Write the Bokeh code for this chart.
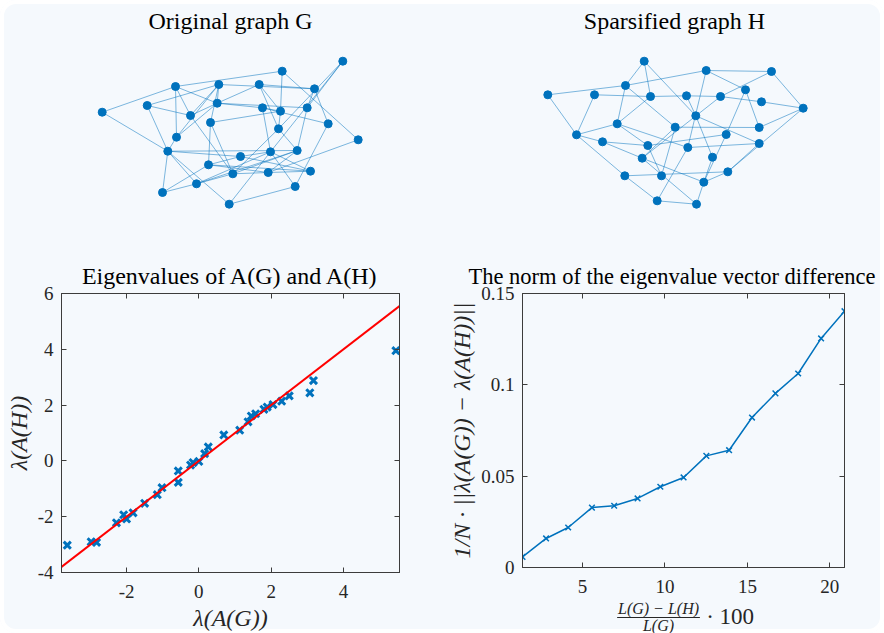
from bokeh.plotting import figure
from bokeh.layouts import row, column
from bokeh.models import (Range1d, FixedTicker, CustomJSTickFormatter, LinearAxis,
                          ColumnDataSource)
from bokeh.core.properties import value
from bokeh.embed import file_html
from bokeh.resources import INLINE

# ---------------- data ----------------
# Original graph G: node layout coordinates (layout units) and edges (1-indexed)
g_node_x = [101.7, 146.7, 175.0, 218.3, 216.7, 190.0, 210.0, 176.0, 167.3, 162.0,
            196.0, 208.0, 228.7, 232.3, 240.0, 258.7, 262.0, 281.7, 280.0, 278.0,
            270.0, 267.7, 294.7, 296.7, 310.0, 306.7, 314.0, 327.7, 342.3, 357.7]
g_node_y = [111.7, 105.0, 86.0, 84.0, 102.7, 115.0, 122.0, 136.7, 150.7, 192.0,
            183.3, 164.3, 203.7, 173.3, 156.0, 84.0, 107.3, 70.7, 110.7, 128.3,
            151.3, 172.0, 186.0, 150.0, 170.7, 107.3, 88.3, 123.3, 60.7, 139.3]
g_edges = [(1, 3), (1, 9), (2, 4), (2, 6), (2, 9), (3, 18), (3, 8), (3, 5), (3, 6),
           (4, 27), (4, 6), (4, 7), (4, 8), (4, 5), (5, 17), (5, 6), (5, 8), (5, 26),
           (16, 27), (16, 20), (16, 5), (16, 19), (18, 19), (18, 30), (29, 20), (29, 21),
           (29, 26), (27, 28), (27, 26), (17, 28), (17, 21), (17, 19), (7, 19), (7, 12),
           (7, 14), (6, 14), (8, 9), (9, 15), (9, 10), (9, 11), (9, 13), (9, 24),
           (10, 11), (10, 12), (11, 21), (11, 24), (11, 14), (12, 25), (12, 15),
           (13, 23), (13, 21), (14, 22), (14, 20), (15, 21), (15, 25), (22, 30),
           (22, 24), (21, 23), (21, 25), (24, 26), (23, 28), (19, 20), (20, 24),
           (22, 25), (14, 24), (12, 22)]

# Sparsified graph H
h_node_x = [547.3, 594.0, 625.0, 643.7, 650.0, 616.7, 576.0, 602.0, 647.3, 641.7,
            624.3, 661.0, 656.7, 696.0, 703.3, 712.0, 687.3, 674.7, 695.3, 686.0,
            705.7, 720.0, 745.0, 771.0, 761.0, 802.7, 758.7, 725.7, 758.7, 727.3]
h_node_y = [94.3, 94.3, 85.0, 60.7, 96.0, 123.3, 134.3, 141.3, 145.0, 157.7,
            175.3, 175.3, 200.3, 203.7, 181.7, 156.7, 147.0, 126.7, 115.3, 95.3,
            70.0, 96.0, 89.3, 71.0, 101.3, 107.7, 127.0, 134.0, 143.0, 171.3]
h_edges = [(1, 3), (1, 7), (2, 7), (2, 5), (5, 20), (20, 22), (22, 25), (3, 4), (3, 21),
           (3, 6), (3, 18), (4, 5), (4, 19), (21, 24), (21, 23), (21, 17), (24, 26),
           (24, 22), (23, 27), (23, 28), (26, 25), (26, 27), (26, 30), (22, 10), (5, 6),
           (20, 19), (19, 16), (19, 29), (6, 7), (6, 9), (6, 17), (7, 8), (7, 11),
           (8, 9), (8, 10), (10, 15), (18, 10), (18, 27), (18, 12), (9, 28), (9, 12),
           (17, 29), (17, 13), (10, 14), (11, 30), (11, 13), (13, 14), (14, 15),
           (15, 16), (15, 30), (15, 28), (29, 30)]

# Eigenvalues of A(G) (x) and A(H) (y)
eig_g = [-3.64, -2.98, -2.83, -2.28, -2.08, -2.00, -1.82, -1.50, -1.15, -1.02,
         -0.57, -0.57, -0.23, -0.16, 0.00, 0.16, 0.26, 0.69, 1.13, 1.36,
         1.45, 1.57, 1.80, 1.89, 2.29, 2.50, 3.07, 3.17, 5.45, 2.05]
eig_h = [-3.02, -2.90, -2.92, -2.22, -1.93, -2.08, -1.86, -1.52, -1.21, -0.96,
         -0.36, -0.77, -0.15, -0.06, -0.02, 0.26, 0.50, 0.93, 1.10, 1.40,
         1.61, 1.69, 1.85, 1.93, 2.14, 2.33, 2.44, 2.88, 3.95, 2.02]
diag_x = [-3.8, 5.55]          # reference line y = x
eig_xticks = [-2, 0, 2, 4]
eig_yticks = [-4, -2, 0, 2, 4, 6]

# Norm of eigenvalue vector difference vs. percent of removed edge weight
removed_pct = [1.36, 2.79, 4.13, 5.57, 6.92, 8.34, 9.72, 11.13, 12.51, 13.89,
               15.28, 16.70, 18.08, 19.47, 20.89]
norm_diff = [0.0058, 0.0159, 0.0219, 0.0328, 0.0338, 0.0378, 0.0442, 0.0493,
             0.0611, 0.0642, 0.0821, 0.0953, 0.1062, 0.1254, 0.1403]
norm_xticks = [5, 10, 15, 20]
norm_yticks = [0, 0.05, 0.1, 0.15]

# ---------------- style ----------------
BG = "#f5f9fd"
BLUE = "#0072BD"
AXC = "#3c3c3c"
TXT = "#262626"
FONT = "Liberation Serif"


def base_fig(width, height, xr, yr, mbl, mbr, mbt, mbb, title=None, axes=True):
    kw = {}
    if not axes:
        kw = dict(x_axis_location=None, y_axis_location=None)
    if title is not None:
        kw["title"] = title
    p = figure(width=width, height=height, x_range=xr, y_range=yr,
               min_border_left=mbl, min_border_right=mbr,
               min_border_top=mbt, min_border_bottom=mbb,
               output_backend="svg", toolbar_location=None, **kw)
    p.background_fill_color = None
    p.border_fill_color = None
    p.title.text_font = FONT
    p.title.text_font_size = "24px"
    p.title.text_font_style = "normal"
    p.title.text_color = "black"
    p.title.align = "center"
    p.title.standoff = 10
    p.xgrid.visible = False
    p.ygrid.visible = False
    if not axes:
        p.outline_line_color = None
    else:
        p.outline_line_color = AXC
        p.outline_line_width = 1
    return p


def style_axes(p, xticks, yticks, xlabel, ylabel, xstand, xlstand):
    fmt = CustomJSTickFormatter(code="return tick.toString();")
    for ax, ticks, lab in ((p.xaxis[0], xticks, xlabel), (p.yaxis[0], yticks, ylabel)):
        ax.ticker = FixedTicker(ticks=ticks)
        ax.formatter = fmt
        ax.major_tick_in = 5
        ax.major_tick_out = 0
        ax.minor_tick_line_color = None
        ax.axis_line_color = AXC
        ax.major_tick_line_color = AXC
        ax.major_label_text_font = FONT
        ax.major_label_text_font_size = "19px"
        ax.major_label_text_color = TXT
        ax.axis_label = lab
        ax.axis_label_text_font = FONT
        ax.axis_label_text_font_size = "24px"
        ax.axis_label_text_font_style = "italic"
        ax.axis_label_text_color = TXT
    p.xaxis[0].major_label_standoff = xstand
    p.xaxis[0].axis_label_standoff = xlstand
    p.yaxis[0].major_label_standoff = 8
    p.yaxis[0].axis_label_standoff = 3
    # box ticks on the top and right edges (no labels)
    for loc, ticks in (("above", xticks), ("right", yticks)):
        extra = LinearAxis(ticker=FixedTicker(ticks=ticks),
                           major_label_text_font_size="1px",
                           major_label_text_color=None, major_label_standoff=0,
                           major_tick_in=5, major_tick_out=0,
                           minor_tick_line_color=None, axis_line_color=AXC,
                           major_tick_line_color=AXC)
        p.add_layout(extra, loc)


def graph_fig(title, nx, ny, edges, width, xr, mbl, mbr):
    p = base_fig(width, 255, Range1d(*xr), Range1d(255, 38), mbl, mbr, 38, 0,
                 title, axes=False)
    src = ColumnDataSource(dict(
        x0=[nx[a - 1] for a, b in edges], y0=[ny[a - 1] for a, b in edges],
        x1=[nx[b - 1] for a, b in edges], y1=[ny[b - 1] for a, b in edges]))
    p.segment("x0", "y0", "x1", "y1", source=src, line_color=BLUE,
              line_alpha=0.5, line_width=1)
    p.scatter(nx, ny, size=8, fill_color=BLUE, line_color=BLUE)
    return p


fg = graph_fig("Original graph G", g_node_x, g_node_y, g_edges, 442, (61, 399), 61, 43)
fh = graph_fig("Sparsified graph H", h_node_x, h_node_y, h_edges, 442, (505, 843), 63, 41)

# Eigenvalue scatter
fe = base_fig(442, 378, Range1d(diag_x[0], diag_x[1]), Range1d(-4, 6), 61, 43, 38, 60,
              "Eigenvalues of A(G) and A(H)")
style_axes(fe, eig_xticks, eig_yticks, "λ(A(G))", "λ(A(H))", 12, 4)
fe.scatter(eig_g, eig_h, marker="x", size=10, line_width=3, line_color=BLUE)
fe.line(diag_x, diag_x, line_color="#ff0000", line_width=2)

# Norm line plot
fn = base_fig(442, 344, Range1d(removed_pct[0], removed_pct[-1]), Range1d(0, 0.15),
              80, 40, 38, 32, "The norm of the eigenvalue vector difference")
fn.title.text_font_size = "22.5px"
fn.title.align = "left"
fn.title.offset = -54
style_axes(fn, norm_xticks, norm_yticks, None, "1/N · ||λ(A(G)) − λ(A(H))||", 12, 0)
fn.line(removed_pct, norm_diff, line_color=BLUE, line_width=1.5)
fn.scatter(removed_pct, norm_diff, marker="x", size=8, line_width=1.5, line_color=BLUE)

# x label of the norm plot as a stacked fraction: (L(G) - L(H)) / L(G) · 100
ff = base_fig(442, 34, fn.x_range, Range1d(34, 0), 80, 40, 0, 0, axes=False)
ff.text(x=[9.61], y=[8.5], text=["L(G) − L(H)"], text_align="center",
        text_baseline="middle", text_font=value(FONT), text_font_size="16px",
        text_font_style="italic", text_color=TXT)
ff.segment(x0=[7.1], y0=[18], x1=[12.12], y1=[18], line_color=TXT, line_width=1)
ff.text(x=[9.61], y=[25.5], text=["L(G)"], text_align="center",
        text_baseline="middle", text_font=value(FONT), text_font_size="16px",
        text_font_style="italic", text_color=TXT)
ff.text(x=[12.5], y=[17], text=["· 100"], text_align="left",
        text_baseline="middle", text_font=value(FONT), text_font_size="23px",
        text_color=TXT)

layout = column(row(fg, fh), row(fe, column(fn, ff)),
                styles={"background-color": BG, "border-radius": "16px",
                        "box-shadow": "inset 0 0 0 4px #ffffff"})

open("out.html", "w").write(file_html(layout, INLINE))
